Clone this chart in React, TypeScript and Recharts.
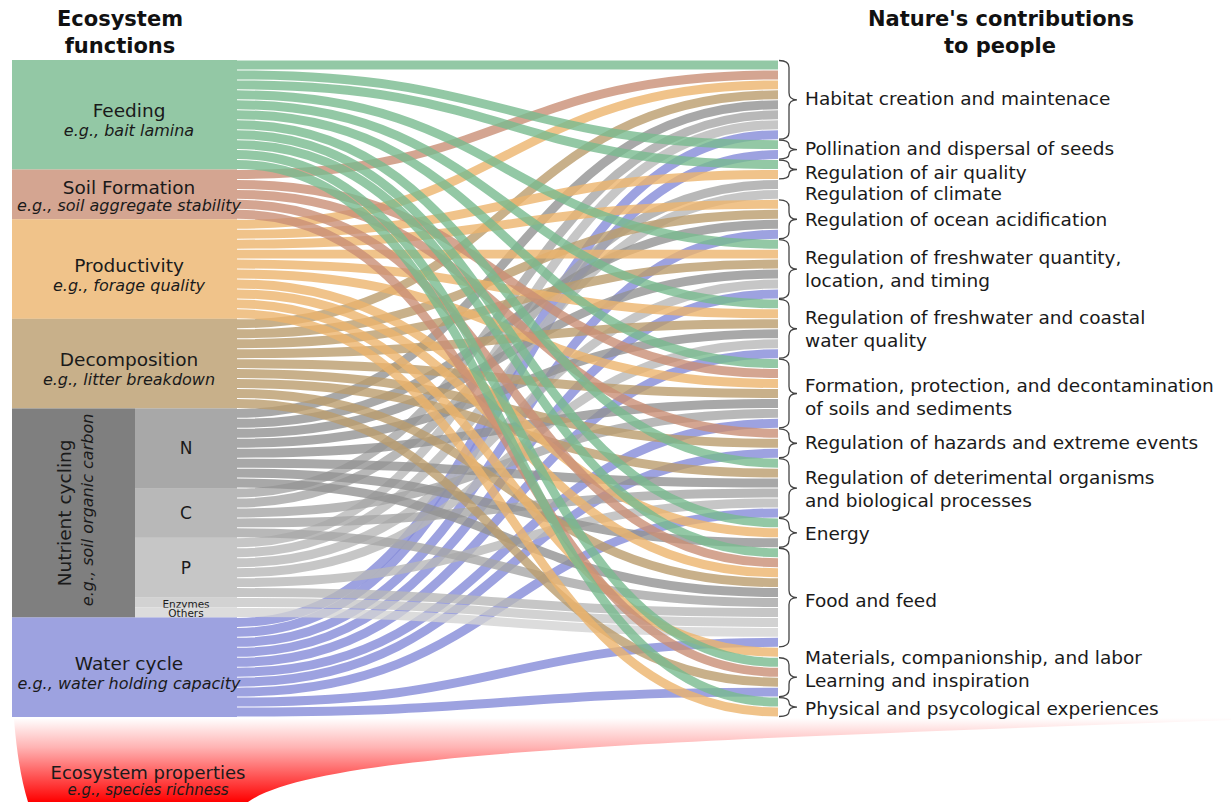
import React from 'react'
import { Sankey } from 'recharts'

const FONT = '"DejaVu Sans", Verdana, sans-serif'

// ecosystem functions, top to bottom (left column)
const functionNames = ['Feeding', 'Soil Formation', 'Productivity', 'Decomposition', 'N', 'C', 'P', 'Enzymes', 'Others', 'Water cycle']
const functionExamples = ['e.g., bait lamina', 'e.g., soil aggregate stability', 'e.g., forage quality', 'e.g., litter breakdown', '', '', '', '', '', 'e.g., water holding capacity']
const functionColors = ['#78ba8e', '#c98e75', '#ecb46d', '#ba9c6d', '#929292', '#a6a6a6', '#b8b8b8', '#c7c7c7', '#d3d3d3', '#848bd8']
const nutrientParts = ['N', 'C', 'P', 'Enzymes', 'Others']

// nature's contributions to people, top to bottom (right column)
const ncpLabels: string[][] = [
  ['Habitat creation and maintenace'],
  ['Pollination and dispersal of seeds'],
  ['Regulation of air quality'],
  ['Regulation of climate'],
  ['Regulation of ocean acidification'],
  ['Regulation of freshwater quantity,', 'location, and timing'],
  ['Regulation of freshwater and coastal', 'water quality'],
  ['Formation, protection, and decontamination', 'of soils and sediments'],
  ['Regulation of hazards and extreme events'],
  ['Regulation of deterimental organisms', 'and biological processes'],
  ['Energy'],
  ['Food and feed'],
  ['Materials, companionship, and labor'],
  ['Learning and inspiration'],
  ['Physical and psycological experiences'],
]
const ncpBrace = [true, true, true, false, true, true, true, true, true, true, true, true, false, true, true]
// small nudges of the label text relative to the node centre
const ncpLabelShift = [-1, -1, 3, 4, 0, 0, 0, 4, -1, 1, 1, 3, 5, 3, 1]

// one flow per function -> contribution pair
const ncpSources: string[][] = [
  ['Feeding', 'Soil Formation', 'Productivity', 'Decomposition', 'N', 'C', 'P', 'Water cycle'],
  ['Feeding', 'Water cycle'],
  ['Feeding', 'Productivity'],
  ['C', 'P'],
  ['Productivity', 'Decomposition', 'N', 'Water cycle'],
  ['Feeding', 'Productivity', 'Decomposition', 'N', 'P', 'Water cycle'],
  ['Feeding', 'Productivity', 'Decomposition', 'N', 'P', 'Water cycle'],
  ['Feeding', 'Soil Formation', 'Productivity', 'Decomposition', 'N', 'C', 'Water cycle'],
  ['Soil Formation', 'Decomposition', 'Water cycle'],
  ['Feeding', 'Decomposition', 'N', 'C', 'P', 'Water cycle'],
  ['Feeding', 'Productivity', 'N'],
  ['Feeding', 'Soil Formation', 'Productivity', 'Decomposition', 'N', 'C', 'P', 'Enzymes', 'Others', 'Water cycle'],
  ['Productivity'],
  ['Feeding', 'Soil Formation', 'Decomposition', 'Water cycle'],
  ['Feeding', 'Productivity'],
]

const nodes = [
  ...functionNames.map(name => ({ name })),
  ...ncpLabels.map(l => ({ name: l.join(' ') })),
]
const links = ncpSources.flatMap((srcs, t) =>
  srcs.map(s => ({ source: functionNames.indexOf(s), target: functionNames.length + t, value: 1 })),
)
const nutrientTotal = links.filter(l => nutrientParts.includes(functionNames[l.source])).reduce((a, l) => a + l.value, 0)

const OPACITY = 0.8

function bracePath(x0: number, t: number, b: number) {
  const m = (t + b) / 2
  const q = 10
  const r = Math.min(7, (b - t) / 4)
  return `M${x0},${t} Q${x0 + q},${t} ${x0 + q},${t + r} L${x0 + q},${m - r} Q${x0 + q},${m} ${x0 + q + 8},${m} ` +
    `Q${x0 + q},${m} ${x0 + q},${m + r} L${x0 + q},${b - r} Q${x0 + q},${b} ${x0},${b}`
}

// eslint-disable-next-line @typescript-eslint/no-explicit-any
function FlowLink(props: any) {
  const { sourceX, sourceY, targetX, targetY, sourceControlX, targetControlX, linkWidth, payload } = props
  const color = functionColors[functionNames.indexOf(payload.source.name)]
  return (
    <path
      d={`M${sourceX},${sourceY}C${sourceControlX},${sourceY} ${targetControlX},${targetY} ${targetX},${targetY}`}
      fill="none"
      stroke={color}
      strokeOpacity={OPACITY}
      strokeWidth={Math.max(linkWidth - 1, 1)}
    />
  )
}

// eslint-disable-next-line @typescript-eslint/no-explicit-any
function FlowNode(props: any) {
  const { x, y, width, height, payload } = props
  const fi = functionNames.indexOf(payload.name)
  const cy = y + height / 2

  if (fi >= 0) {
    const color = functionColors[fi]
    const part = nutrientParts.indexOf(payload.name)
    if (part >= 0) {
      const groupH = (height / payload.value) * nutrientTotal
      const small = payload.name.length > 1
      return (
        <g>
          {part === 0 && (
            <g>
              <rect x={x} y={y} width={123} height={groupH} fill="#7f7f7f" />
              <text x={65} y={y + groupH / 2} transform={`rotate(-90, 65, ${y + groupH / 2})`} textAnchor="middle"
                dominantBaseline="central" fontFamily={FONT} fontSize={18.5} fill="#1a1a1a">Nutrient cycling</text>
              <text x={88} y={y + groupH / 2 - 3} transform={`rotate(-90, 88, ${y + groupH / 2 - 3})`} textAnchor="middle"
                dominantBaseline="central" fontFamily={FONT} fontSize={16} fontStyle="italic" fill="#1a1a1a">e.g., soil organic carbon</text>
            </g>
          )}
          <rect x={x + 123} y={y} width={width - 123} height={height} fill={color} fillOpacity={OPACITY} />
          <text x={x + 174} y={cy + (small ? 1 : 0)} textAnchor="middle" dominantBaseline="central" fontFamily={FONT}
            fontSize={small ? 10.5 : 17} fill="#1a1a1a">{payload.name}</text>
        </g>
      )
    }
    const tight = height < 60
    return (
      <g>
        <rect x={x} y={y} width={width} height={height} fill={color} fillOpacity={OPACITY} />
        <text x={x + 117} y={cy + (tight ? -7 : -4)} textAnchor="middle" dominantBaseline="central" fontFamily={FONT}
          fontSize={18.5} fill="#1a1a1a">{payload.name}</text>
        <text x={x + 117} y={cy + (tight ? 11 : 16)} textAnchor="middle" dominantBaseline="central" fontFamily={FONT}
          fontSize={16} fontStyle="italic" fill="#1a1a1a">{functionExamples[fi]}</text>
      </g>
    )
  }

  const ti = ncpLabels.findIndex(l => l.join(' ') === payload.name)
  const lines = ncpLabels[ti]
  return (
    <g>
      {ncpBrace[ti] && <path d={bracePath(x + 1, y + 0.5, y + height - 0.5)} fill="none" stroke="#444" strokeWidth={1.3} />}
      {lines.map((line, i) => (
        <text key={i} x={x + 27} y={cy + ncpLabelShift[ti] + (i - (lines.length - 1) / 2) * 23} dominantBaseline="central"
          fontFamily={FONT} fontSize={18.5} fill="#1a1a1a">{line}</text>
      ))}
    </g>
  )
}

export default function App() {
  return (
    <div style={{ position: 'absolute', left: 0, top: 0, width: 1231, height: 802, background: '#fff', overflow: 'hidden' }}>
      <svg width={1231} height={802} style={{ position: 'absolute', left: 0, top: 0 }}>
        <defs>
          <linearGradient id="props" x1="0" y1="718" x2="0" y2="802" gradientUnits="userSpaceOnUse">
            <stop offset="0" stopColor="#ffffff" />
            <stop offset="0.35" stopColor="#ffb3b3" />
            <stop offset="1" stopColor="#ff0000" />
          </linearGradient>
        </defs>
        <path d="M14,719 L1231,717 L1231,720 C700,740 320,750 248,802 L28,802 Q18,770 14,719 Z" fill="url(#props)" />
        <text x={148} y={772} textAnchor="middle" dominantBaseline="central" fontFamily={FONT} fontSize={18} fill="#1a1a1a">Ecosystem properties</text>
        <text x={148} y={790} textAnchor="middle" dominantBaseline="central" fontFamily={FONT} fontSize={15} fontStyle="italic" fill="#1a1a1a">e.g., species richness</text>
        <g fontFamily={FONT} fontSize={21} fontWeight="bold" fill="#111" textAnchor="middle">
          <text x={120} y={19} dominantBaseline="central">Ecosystem</text>
          <text x={120} y={46} dominantBaseline="central">functions</text>
          <text x={1001} y={19} dominantBaseline="central">Nature's contributions</text>
          <text x={1000} y={46} dominantBaseline="central">to people</text>
        </g>
      </svg>
      <div style={{ position: 'absolute', left: 0, top: 0 }}>
        <Sankey
          width={1231}
          height={802}
          data={{ nodes, links }}
          nodeWidth={225}
          nodePadding={0}
          iterations={0}
          sort={false}
          linkCurvature={0.5}
          margin={{ top: 60, right: 228, bottom: 85, left: 12 }}
          node={FlowNode}
          link={FlowLink}
        />
      </div>
    </div>
  )
}
